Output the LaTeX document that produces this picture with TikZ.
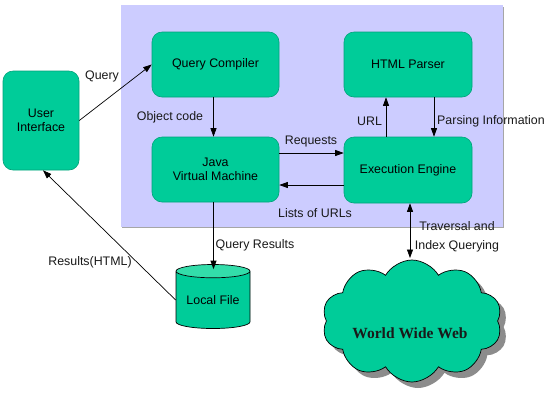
\documentclass[tikz,border=0pt]{standalone}
\usepackage{fontspec}
\setmainfont{Liberation Sans}
\newfontfamily\wwwfont{Liberation Serif}
\usetikzlibrary{arrows.meta,shapes.geometric,shapes.symbols,shadows}
\definecolor{boxgreen}{HTML}{00CC99}
\definecolor{boxedge}{HTML}{00A37A}
\definecolor{topgreen}{HTML}{33DDAA}
\definecolor{lav}{HTML}{CCCCFF}
\tikzset{
  comp/.style={rectangle, rounded corners=10pt, fill=boxgreen, draw=boxedge, line width=0.6pt, align=center, inner sep=2pt},
  arr/.style={draw=black, line width=0.7pt, -{Triangle[length=8.5pt,width=6pt]}},
  arrtwo/.style={draw=black, line width=0.7pt, {Triangle[length=8.5pt,width=6pt]}-{Triangle[length=8.5pt,width=6pt]}},
  lbl/.style={inner sep=0pt, text=black!90},
}
\begin{document}
\begin{tikzpicture}[x=1pt,y=-1pt,font=\fontsize{12.4}{14.5}\selectfont]
\useasboundingbox (0,0) rectangle (551,392);
\fill[white] (0,0) rectangle (551,392);
% system background
\fill[gray!70] (122,7) rectangle (504,228);
\fill[lav] (121,5) rectangle (503,227);
% components
\node[comp, minimum width=127pt, minimum height=65pt] (qc) at (215.5,64.5) {Query Compiler};
\node[comp, minimum width=127pt, minimum height=65pt] (jvm) at (215.5,169.5) {Java\\Virtual Machine};
\node[comp, minimum width=128pt, minimum height=65pt] (html) at (408,64.5) {HTML Parser};
\node[comp, minimum width=128pt, minimum height=66pt] (ee) at (408,170) {Execution Engine};
\node[comp, minimum width=76pt, minimum height=99pt] (ui) at (41,120.5) {User\\Interface};
% local file
\node[cylinder, shape border rotate=90, aspect=0.25, draw=black, line width=0.7pt,
      cylinder uses custom fill, cylinder body fill=boxgreen, cylinder end fill=topgreen,
      minimum width=74pt, minimum height=64pt, inner sep=0pt] (lf) at (213,300) {Local File};
% cloud
\node[cloud, cloud puffs=10, cloud puff arc=120, aspect=1.5, draw=black, line width=0.7pt, fill=boxgreen,
      drop shadow={shadow xshift=6pt, shadow yshift=-6pt, fill=gray!90, opacity=1},
      minimum width=180pt, minimum height=122pt, inner sep=0pt] (www) at (412,321) {};
\node[lbl, font=\wwwfont\bfseries\fontsize{15.5}{17}\selectfont] (wwwt) at (410,333) {World Wide Web};
\coordinate (wt) at (410,258);
% connectors
\draw[arr] (ui.east) -- (qc.west);
\draw[arr] ([xshift=-2pt]qc.south) -- ([xshift=-2pt]qc.south |- jvm.north);
\draw[arr] ([yshift=16.5pt]jvm.east) -- ([yshift=16.5pt]jvm.east -| ee.west);
\draw[arr] ([yshift=-15pt]ee.west) -- ([yshift=-15pt]ee.west -| jvm.east);
\draw[arr] ([xshift=-22pt]ee.north) -- ([xshift=-22pt]ee.north |- html.south);
\draw[arr] ([xshift=26pt]html.south) -- ([xshift=26pt]html.south |- ee.north);
\draw[arrtwo] ([xshift=2pt]ee.south) -- (wt);
\draw[arr] ([xshift=-2pt]jvm.south) -- ([xshift=-2pt,yshift=-5pt]jvm.south |- lf.north);
\draw[arr] (lf.west) -- ([xshift=2pt]ui.south);
% labels
\node[lbl] (lq) at (102,76) {Query};
\node[lbl] (loc) at (170,117) {Object code};
\node[lbl] (lreq) at (311,142) {Requests};
\node[lbl] (llist) at (315,213) {Lists of URLs};
\node[lbl] (lurl) at (369.5,121) {URL};
\node[lbl, anchor=west] (lpi) at (437,121) {Parsing Information};
\node[lbl, align=center, font=\fontsize{12.4}{19}\selectfont] (ltr) at (457,236.5) {Traversal and\\Index Querying};
\node[lbl] (lqr) at (255,245) {Query Results};
\node[lbl] (lrh) at (90,262) {Results(HTML)};
\end{tikzpicture}
\end{document}
